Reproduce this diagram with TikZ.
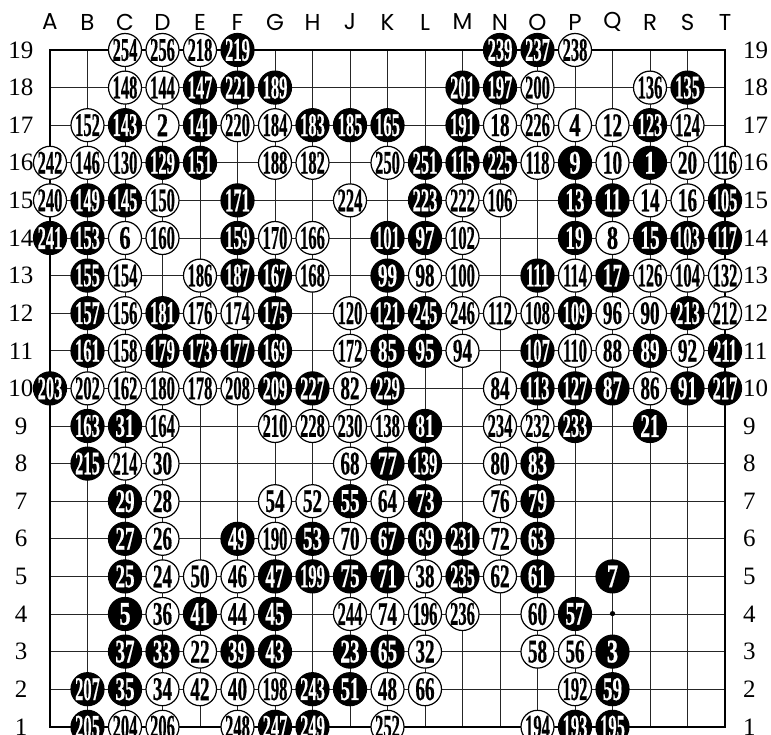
\documentclass[tikz,border=0pt]{standalone}
\usepackage{fontspec}
\usepackage{graphicx}
\setmainfont{Liberation Serif}
\newfontfamily\coordfont{Poppins}
\newfontfamily\numfont[BoldFeatures={FakeBold=0.8}]{Liberation Serif}
\begin{document}
\begin{tikzpicture}[x=1pt,y={(0pt,-1pt)},
  gridline/.style={line width=0.9pt, black!85},
  edgeline/.style={line width=2.2pt, black},
  stone/.style={circle, draw=black, line width=1.2pt, minimum size=33pt, inner sep=0pt},
  stonetext/.style={inner sep=0pt, font=\numfont\fontsize{33}{33}\selectfont\bfseries},
  collabel/.style={font=\coordfont\fontsize{23}{23}\selectfont, inner sep=0pt},
  rowlabel/.style={font=\fontsize{25}{25}\selectfont, inner sep=0pt}]
\useasboundingbox (0,0) rectangle (771,735);
\fill[white] (0,0) rectangle (771,735);
% grid
\foreach \i in {1,...,17} {
  \draw[gridline] ({50+37.5*\i},50) -- ({50+37.5*\i},726.8);
  \draw[gridline] (50,{50+37.6*\i}) -- (725,{50+37.6*\i});
}
\draw[edgeline] (50,50) rectangle (725,726.8);
% star point
\fill (612.5,613.6) circle (2.6pt);
% column labels
\foreach \l [count=\k from 0] in {A,B,C,D,E,F,G,H,J,K,L,M,N,O,P,Q,R,S,T} {
  \node[collabel] (c\l) at ({50+37.5*\k},22) {\l};
}
% row labels
\foreach \r in {1,...,19} {
  \node[rowlabel] (l\r) at (21,{50+37.6*(19-\r)}) {\r};
  \node[rowlabel, anchor=west] (r\r) at (743,{50+37.6*(19-\r)}) {\r};
}
% stones
\foreach \c/\r/\n in {
2/19/254, 3/19/256, 4/19/218, 5/19/219, 12/19/239, 13/19/237, 14/19/238,
2/18/148, 3/18/144, 4/18/147, 5/18/221, 6/18/189, 11/18/201, 12/18/197, 13/18/200, 16/18/136, 17/18/135,
1/17/152, 2/17/143, 3/17/2, 4/17/141, 5/17/220, 6/17/184, 7/17/183, 8/17/185, 9/17/165, 11/17/191, 12/17/18, 13/17/226, 14/17/4, 15/17/12, 16/17/123, 17/17/124,
0/16/242, 1/16/146, 2/16/130, 3/16/129, 4/16/151, 6/16/188, 7/16/182, 9/16/250, 10/16/251, 11/16/115, 12/16/225, 13/16/118, 14/16/9, 15/16/10, 16/16/1, 17/16/20, 18/16/116,
0/15/240, 1/15/149, 2/15/145, 3/15/150, 5/15/171, 8/15/224, 10/15/223, 11/15/222, 12/15/106, 14/15/13, 15/15/11, 16/15/14, 17/15/16, 18/15/105,
0/14/241, 1/14/153, 2/14/6, 3/14/160, 5/14/159, 6/14/170, 7/14/166, 9/14/101, 10/14/97, 11/14/102, 14/14/19, 15/14/8, 16/14/15, 17/14/103, 18/14/117,
1/13/155, 2/13/154, 4/13/186, 5/13/187, 6/13/167, 7/13/168, 9/13/99, 10/13/98, 11/13/100, 13/13/111, 14/13/114, 15/13/17, 16/13/126, 17/13/104, 18/13/132,
1/12/157, 2/12/156, 3/12/181, 4/12/176, 5/12/174, 6/12/175, 8/12/120, 9/12/121, 10/12/245, 11/12/246, 12/12/112, 13/12/108, 14/12/109, 15/12/96, 16/12/90, 17/12/213, 18/12/212,
1/11/161, 2/11/158, 3/11/179, 4/11/173, 5/11/177, 6/11/169, 8/11/172, 9/11/85, 10/11/95, 11/11/94, 13/11/107, 14/11/110, 15/11/88, 16/11/89, 17/11/92, 18/11/211,
0/10/203, 1/10/202, 2/10/162, 3/10/180, 4/10/178, 5/10/208, 6/10/209, 7/10/227, 8/10/82, 9/10/229, 12/10/84, 13/10/113, 14/10/127, 15/10/87, 16/10/86, 17/10/91, 18/10/217,
1/9/163, 2/9/31, 3/9/164, 6/9/210, 7/9/228, 8/9/230, 9/9/138, 10/9/81, 12/9/234, 13/9/232, 14/9/233, 16/9/21,
1/8/215, 2/8/214, 3/8/30, 8/8/68, 9/8/77, 10/8/139, 12/8/80, 13/8/83,
2/7/29, 3/7/28, 6/7/54, 7/7/52, 8/7/55, 9/7/64, 10/7/73, 12/7/76, 13/7/79,
2/6/27, 3/6/26, 5/6/49, 6/6/190, 7/6/53, 8/6/70, 9/6/67, 10/6/69, 11/6/231, 12/6/72, 13/6/63,
2/5/25, 3/5/24, 4/5/50, 5/5/46, 6/5/47, 7/5/199, 8/5/75, 9/5/71, 10/5/38, 11/5/235, 12/5/62, 13/5/61, 15/5/7,
2/4/5, 3/4/36, 4/4/41, 5/4/44, 6/4/45, 8/4/244, 9/4/74, 10/4/196, 11/4/236, 13/4/60, 14/4/57,
2/3/37, 3/3/33, 4/3/22, 5/3/39, 6/3/43, 8/3/23, 9/3/65, 10/3/32, 13/3/58, 14/3/56, 15/3/3,
1/2/207, 2/2/35, 3/2/34, 4/2/42, 5/2/40, 6/2/198, 7/2/243, 8/2/51, 9/2/48, 10/2/66, 14/2/192, 15/2/59,
1/1/205, 2/1/204, 3/1/206, 5/1/248, 6/1/247, 7/1/249, 9/1/252, 13/1/194, 14/1/193, 15/1/195} {
  \pgfmathsetmacro\sx{50+37.5*\c}
  \pgfmathsetmacro\sy{50+37.6*(19-\r)}
  \ifodd\n \def\fc{black}\def\tc{white}\else\def\fc{white}\def\tc{black}\fi
  \ifnum\n>99 \def\sc{0.5}\else\ifnum\n>9 \def\sc{0.58}\else\def\sc{0.68}\fi\fi
  \node[stone, fill=\fc] (s\n) at (\sx,\sy) {};
  \node[stonetext, text=\tc] (t\n) at (s\n.center) {\scalebox{\sc}[1]{\n}};
}
\end{tikzpicture}
\end{document}
